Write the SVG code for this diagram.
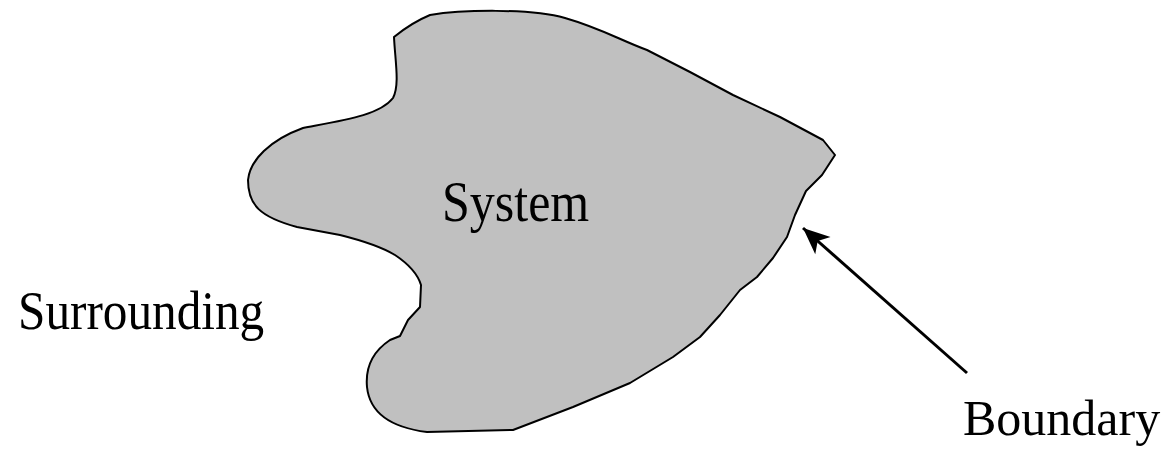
<svg xmlns="http://www.w3.org/2000/svg" width="1167" height="451" viewBox="0 0 1167 451">
<style>
.lbl{font-family:"Liberation Serif","Times New Roman",serif;font-size:50px;fill:#000}
.blob{fill:#c0c0c0;stroke:#000;stroke-width:2;stroke-linejoin:round}
.conn{stroke:#000;stroke-width:3;fill:none}
</style>
<defs>
<marker id="ah" markerUnits="userSpaceOnUse" markerWidth="30" markerHeight="30" viewBox="-24 -12 26 24" refX="0" refY="0" orient="auto">
<path d="M0,0 L-23,-10 L-17,0 L-23,10 Z" fill="#000"/>
</marker>
</defs>
<rect width="1167" height="451" fill="#fff"/>
<g id="system">
<path class="blob" d="M394,37 C405,28 418,20 430,15 C460,10 530,8 565,18 C600,28 620,40 647,50 L690,72 L733,95 L780,117 L823,140 L835,155 L822,175 L810,187 L806,191 L795,215 L787,237 L773,258 L757,277 L740,290 L720,315 L700,337 L673,357 L630,383 L573,407 L513,430 L427,432 C395,428 370,415 367,387 C365,365 375,350 390,340 L400,336 L408,320 L420,307 L421,285 C418,275 410,265 395,255 C380,246 360,240 340,235 L297,227 C260,217 248,205 248,180 C250,160 270,140 303,128 C345,120 380,115 393,98 C400,85 395,60 394,37 Z"/>
<text class="lbl" transform="translate(442,221) scale(1,1.14)">System</text>
</g>
<g id="surrounding">
<text class="lbl" transform="translate(18,329) scale(0.985,1.1)">Surrounding</text>
</g>
<g id="boundary">
<text class="lbl" x="963" y="435">Boundary</text>
</g>
<g id="connectors">
<line class="conn" x1="967" y1="373" x2="803" y2="228" marker-end="url(#ah)"/>
</g>
</svg>
